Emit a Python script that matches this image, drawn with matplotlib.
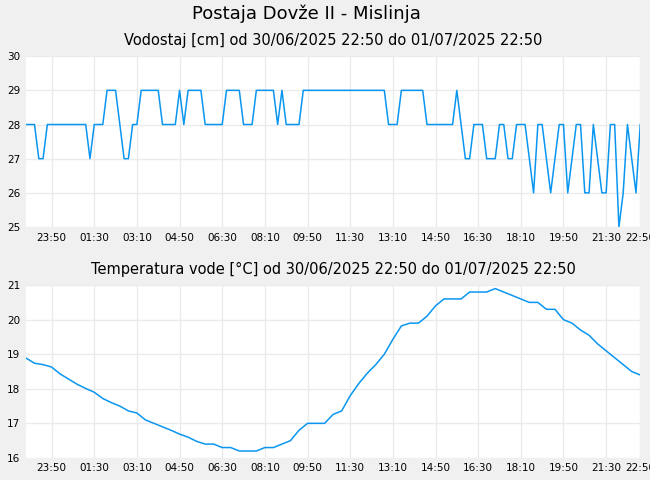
import matplotlib
matplotlib.use("Agg")
import matplotlib.pyplot as plt
import numpy as np

# water level, every 10 minutes from 30/06 22:50
level = [28,28,28,27,27,28,28,28,28,28,28,28,28,28,28,27,28,28,28,29,29,29,28,27,27,28,
         28,29,29,29,29,29,28,28,28,28,29,28,29,29,29,29,28,28,28,28,28,29,29,29,29,28,28,28,
         29,29,29,29,29,28,29,28,28,28,28,29] + [29]*19 + [28,28,28,29,29,29,29,29,29,
         28,28,28,28,28,28,28,29,28,27,27,28,28,28,27,27,27,28,28,27,27,28,28,28,27,26,28,
         28,27,26,27,28,28,26,27,28,28,26,26,28,27,26,26,28,28,25,26,28,27,26,28]
# temperature, every 20 minutes
temp = [18.89,18.74,18.7,18.63,18.43,18.28,18.13,18.01,17.9,17.72,17.6,17.5,17.36,17.3,
        17.1,17.0,16.9,16.8,16.69,16.6,16.48,16.4,16.4,16.3,16.3,16.2,16.2,16.2,16.3,16.3,
        16.4,16.5,16.8,17.0,17.0,17.0,17.26,17.36,17.8,18.15,18.45,18.7,19.0,19.43,19.82,
        19.9,19.9,20.1,20.4,20.6,20.6,20.6,20.8,20.8,20.8,20.9,20.8,20.7,20.6,20.5,20.5,
        20.3,20.3,20.0,19.9,19.7,19.55,19.3,19.1,18.9,18.7,18.5,18.4]
tick_minutes = [60,160,260,360,460,560,660,760,860,960,1060,1160,1260,1360,1440]
tick_labels = ["23:50","01:30","03:10","04:50","06:30","08:10","09:50","11:30","13:10",
               "14:50","16:30","18:10","19:50","21:30","22:50"]

t_level = np.arange(len(level))*10
t_temp = np.arange(len(temp))*20
col = "#0a96f0"

fig = plt.figure(figsize=(6.5,4.8), dpi=100, facecolor="#f0f0f0")
fig.text(0.472, 0.972, "Postaja Dovže II - Mislinja", ha="center", va="center", fontsize=13)
ax1 = fig.add_axes([0.04, 0.527, 0.945, 0.356])
ax2 = fig.add_axes([0.04, 0.046, 0.945, 0.36])
ax1.plot(t_level, level, color=col, lw=1.1)
ax2.plot(t_temp, temp, color=col, lw=1.1)
ax1.set_ylim(25,30); ax2.set_ylim(16,21)
ax1.set_title("Vodostaj [cm] od 30/06/2025 22:50 do 01/07/2025 22:50", fontsize=10.5, pad=8)
ax2.set_title("Temperatura vode [°C] od 30/06/2025 22:50 do 01/07/2025 22:50", fontsize=10.5, pad=8)
for ax in (ax1, ax2):
    ax.set_xlim(0,1440)
    ax.set_xticks(tick_minutes)
    ax.set_xticklabels(tick_labels)
    ax.tick_params(labelsize=7.5, length=0, pad=4)
    ax.grid(True, color="#ebebeb", lw=1)
    ax.set_axisbelow(True)
    for s in ax.spines.values():
        s.set_visible(False)
fig.savefig("out.png", dpi=100, facecolor=fig.get_facecolor())
